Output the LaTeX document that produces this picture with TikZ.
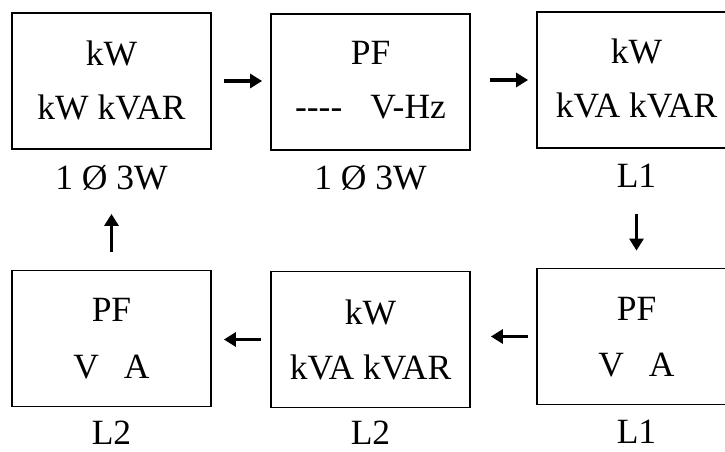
\documentclass[tikz,border=0pt]{standalone}
\usepackage{fontspec}
\setmainfont[Ligatures=NoCommon]{Liberation Serif}
\usetikzlibrary{arrows.meta}
\begin{document}
\begin{tikzpicture}[x=1pt,y=-1pt,
  box/.style={draw,line width=1.8pt,minimum width=199pt,minimum height=136pt,inner sep=0pt},
  txt/.style={font=\fontsize{35.5}{40}\selectfont,inner sep=0pt,anchor=center},
  arr/.style={line width=3.2pt,-{Triangle[length=12pt,width=14pt]}}]
\useasboundingbox (0,0) rectangle (725,452);
% boxes
\node[box] (b1) at (111.5,81) {};
\node[box] (b2) at (370.5,82) {};
\node[box] (b3) at (636.5,80) {};
\node[box] (b4) at (111.5,338.5) {};
\node[box] (b5) at (370.5,339.5) {};
\node[box] (b6) at (636.5,336.5) {};
% box texts
\node[txt] (t1a) at (111.5,53) {kW};
\node[txt] (t1b) at (111.5,107) {kW kVAR};
\node[txt] (t2a) at (370.5,53) {PF};
\node[txt] (t2b) at (370.5,107) {{-}{-}{-}{-}\hspace{28pt}V-Hz};
\node[txt] (t3a) at (636.5,51) {kW};
\node[txt] (t3b) at (636.5,105) {kVA kVAR};
\node[txt] (t4a) at (111.5,310) {PF};
\node[txt] (t4b) at (111.5,367) {V\hspace{25pt}A};
\node[txt] (t5a) at (370.5,312) {kW};
\node[txt] (t5b) at (370.5,367) {kVA kVAR};
\node[txt] (t6a) at (636.5,309) {PF};
\node[txt] (t6b) at (636.5,365) {V\hspace{25pt}A};
% labels
\node[txt] (l1) at (111.5,178) {1 Ø 3W};
\node[txt] (l2) at (370.5,178) {1 Ø 3W};
\node[txt] (l3) at (636.5,176) {L1};
\node[txt] (l4) at (111.5,433) {L2};
\node[txt] (l5) at (370.5,433) {L2};
\node[txt] (l6) at (636.5,432) {L1};
% arrows
\draw[arr,shorten <=12pt,shorten >=8pt] (b1.east) -- (b2.west|-b1.east);
\draw[arr,shorten <=19pt,shorten >=8pt] (b2.east|-b3.east) -- (b3.west);
\draw[arr,shorten <=65pt,shorten >=17pt] (b3.south) -- (b6.north);
\draw[arr,shorten <=8pt,shorten >=20pt] (b6.west) -- (b5.east|-b6.west);
\draw[arr,shorten <=9pt,shorten >=12pt] (b5.west) -- (b4.east|-b5.west);
\draw[arr,shorten <=18pt,shorten >=64pt] (b4.north) -- (b1.south);
\end{tikzpicture}
\end{document}
